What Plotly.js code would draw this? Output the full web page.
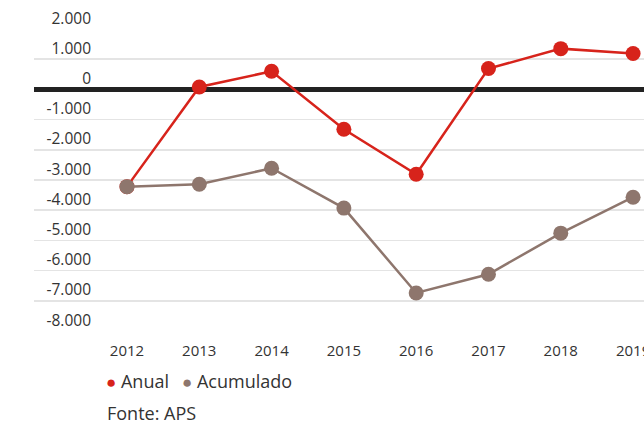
<!DOCTYPE html>
<html>
<head>
<meta charset="utf-8">
<script src="https://cdn.plot.ly/plotly-3.0.1.min.js"></script>
<style>
  html, body { margin: 0; padding: 0; background: #fff; }
  #chart { width: 644px; height: 424px; }
</style>
</head>
<body>
<div id="chart"></div>
<script>
const years = [2012, 2013, 2014, 2015, 2016, 2017, 2018, 2019];
const anual = [-3220, 80, 600, -1320, -2810, 690, 1350, 1190];
const acumulado = [-3220, -3140, -2610, -3930, -6740, -6120, -4760, -3570];

const yTickVals = [2000, 1000, 0, -1000, -2000, -3000, -4000, -5000, -6000, -7000, -8000];
const yTickText = ['2.000', '1.000', '0', '-1.000', '-2.000', '-3.000', '-4.000', '-5.000', '-6.000', '-7.000', '-8.000'];

const RED = '#d7231b';
const BROWN = '#8e766d';
const TEXT = '#333333';
const FONT = 'Open Sans, sans-serif';

// Acumulado drawn last so it sits on top where both start (2012)
const series = [
    { name: 'Anual', y: anual, color: RED },
    { name: 'Acumulado', y: acumulado, color: BROWN }
];

const traces = series.map(s => ({
    type: 'scatter',
    mode: 'lines+markers',
    name: s.name,
    x: years,
    y: s.y,
    line: { color: s.color, width: 2.5 },
    marker: { color: s.color, size: 15 },
    showlegend: false,
    hoverinfo: 'x+y'
}));

const legendDot = c => '<span style="color:' + c + ';font-size:17px">●</span> ';

const layout = {
    width: 644,
    height: 424,
    margin: { l: 34, r: 0, t: 28.5, b: 93 },
    paper_bgcolor: '#fff',
    plot_bgcolor: '#fff',
    font: { family: FONT, size: 15, color: TEXT },
    xaxis: {
        range: [2010.714, 2019.151],
        tickvals: years,
        ticktext: years.map(String),
        showgrid: false,
        zeroline: false,
        showline: false,
        ticks: '',
        ticklabelstandoff: 9,
        ticklabeloverflow: 'allow',
        tickfont: { family: FONT, size: 15, color: TEXT }
    },
    yaxis: {
        range: [-8000, 2000],
        tickvals: yTickVals,
        ticktext: yTickText,
        showgrid: true,
        gridcolor: '#e4e4e4',
        gridwidth: 1.5,
        zeroline: true,
        zerolinecolor: '#222222',
        zerolinewidth: 4.5,
        showline: false,
        ticks: '',
        ticklabelposition: 'outside top',
        ticklabelstandoff: -58,
        tickfont: { family: FONT, size: 15.5, color: TEXT }
    },
    annotations: [
        {
            xref: 'paper', yref: 'paper',
            x: (104 - 34) / 610, y: (331 - 381) / 302.5,
            xanchor: 'left', yanchor: 'middle',
            showarrow: false,
            text: legendDot(RED) + 'Anual',
            font: { family: FONT, size: 18, color: TEXT }
        },
        {
            xref: 'paper', yref: 'paper',
            x: (180 - 34) / 610, y: (331 - 381) / 302.5,
            xanchor: 'left', yanchor: 'middle',
            showarrow: false,
            text: legendDot(BROWN) + 'Acumulado',
            font: { family: FONT, size: 18, color: TEXT }
        },
        {
            xref: 'paper', yref: 'paper',
            x: (105 - 34) / 610, y: (331 - 413) / 302.5,
            xanchor: 'left', yanchor: 'middle',
            showarrow: false,
            text: 'Fonte: APS',
            font: { family: FONT, size: 18, color: TEXT }
        }
    ],
    showlegend: false
};

Plotly.newPlot('chart', traces, layout, { displayModeBar: false, staticPlot: true });
</script>
</body>
</html>
